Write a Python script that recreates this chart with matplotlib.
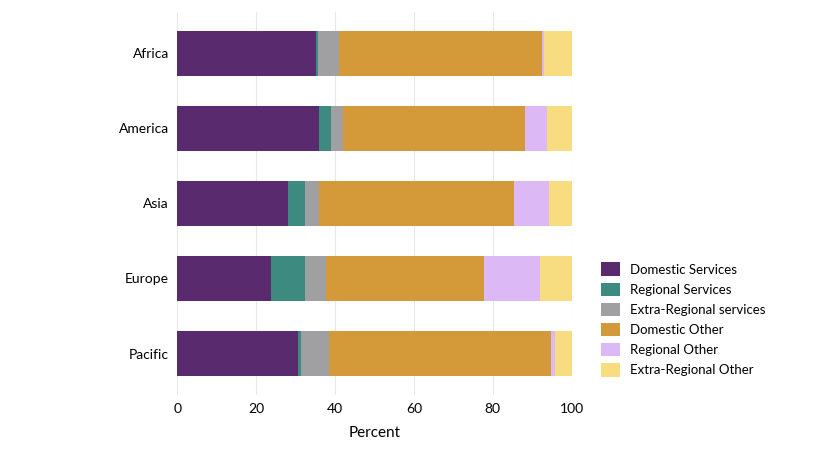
import matplotlib
matplotlib.use("Agg")
import matplotlib.pyplot as plt
import numpy as np

plt.rcParams["font.family"] = "Lato"

regions = ["Africa", "America", "Asia", "Europe", "Pacific"]
series_names = ["Domestic Services", "Regional Services", "Extra-Regional services",
                "Domestic Other", "Regional Other", "Extra-Regional Other"]
domestic_services = [35.3, 36.0, 28.2, 23.9, 30.7]
regional_services = [0.5, 3.1, 4.3, 8.6, 0.8]
extra_services = [5.1, 3.0, 3.5, 5.3, 7.1]
domestic_other = [51.5, 46.2, 49.5, 40.1, 56.3]
regional_other = [0.5, 5.4, 8.7, 14.0, 1.0]
extra_other = [7.1, 6.3, 5.8, 8.1, 4.1]
colors = ["#5a2a6e", "#3d8a80", "#a0a0a2", "#d49a3a", "#dcb8f5", "#f7dc80"]

data = [domestic_services, regional_services, extra_services,
        domestic_other, regional_other, extra_other]

fig = plt.figure(figsize=(8.13, 4.57), dpi=100)
ax = fig.add_axes([0.218, 0.136, 0.485, 0.838])
y = np.arange(len(regions))
left = np.zeros(len(regions))
for vals, name, c in zip(data, series_names, colors):
    ax.barh(y, vals, left=left, color=c, height=0.6, label=name, zorder=3)
    left += np.array(vals)

ax.set_yticks(y)
ax.set_yticklabels(regions, fontsize=10)
ax.invert_yaxis()
ax.set_ylim(4.55, -0.55)
ax.set_xlim(0, 100)
ax.set_xticks([0, 20, 40, 60, 80, 100])
ax.tick_params(axis="both", length=0, labelsize=10, pad=6)
ax.grid(axis="x", color="#e8e8e8", linewidth=0.8, zorder=0)
for s in ax.spines.values():
    s.set_visible(False)
ax.set_xlabel("Percent", fontsize=11, labelpad=8)

fig.legend(loc="lower left", bbox_to_anchor=(0.725, 0.15), frameon=False,
           fontsize=9.5, handlelength=1.4, handleheight=1.2, labelspacing=0.5)

fig.savefig("out.png", dpi=100, facecolor="white")
